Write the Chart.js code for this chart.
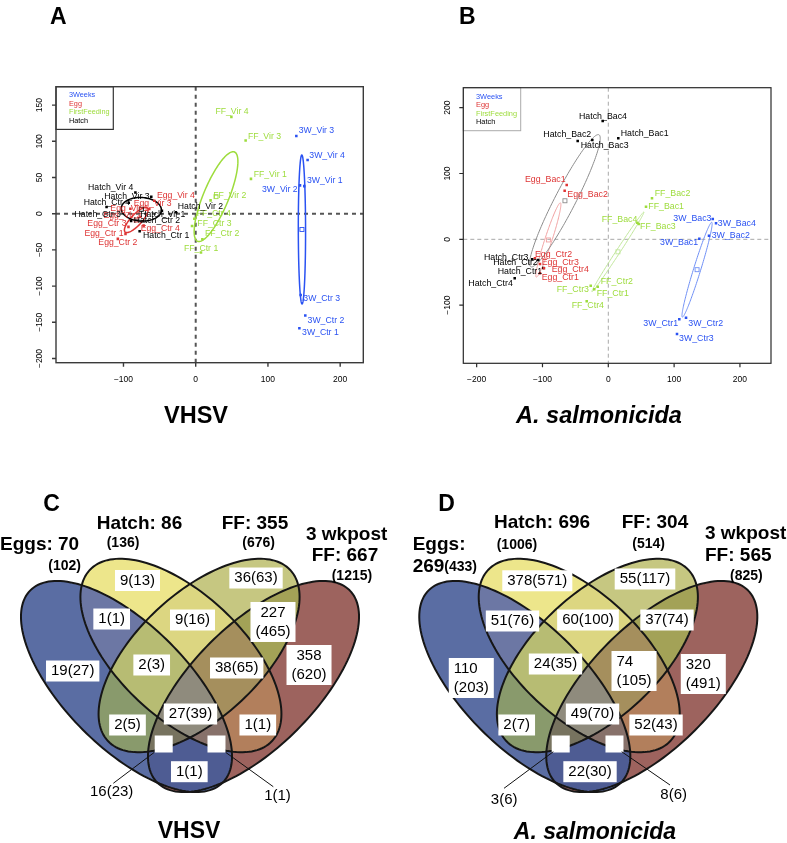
<!DOCTYPE html>
<html>
<head>
<meta charset="utf-8">
<title>PCA y Venn</title>
<script src="https://cdn.jsdelivr.net/npm/chart.js@4.4.1/dist/chart.umd.min.js"></script>
<style>
  html, body { margin: 0; padding: 0; background: #fff; }
  #lienzo { position: relative; width: 787px; height: 843px; overflow: hidden; }
  #lienzo canvas { position: absolute; left: 0; top: 0; }
</style>
</head>
<body>
<div id="lienzo">
  <canvas id="pcaA" width="787" height="843"></canvas>
  <canvas id="pcaB" width="787" height="843"></canvas>
  <canvas id="vennC" width="787" height="843"></canvas>
  <canvas id="vennD" width="787" height="843"></canvas>
</div>
<script>
const FONT = '"Liberation Sans", Arial, Helvetica, sans-serif';

// ---------- datos PCA ----------
const groupNames = ['3Weeks', 'Egg', 'FirstFeeding', 'Hatch'];

// A: VHSV
const vhsvNames3W = ['3W_Vir 3', '3W_Vir 4', '3W_Vir 1', '3W_Vir 2', '3W_Ctr 3', '3W_Ctr 2', '3W_Ctr 1'];
const vhsvX3W = [139.3, 154.9, 150.3, 144.4, 145.3, 151.7, 143.5];
const vhsvY3W = [107.3, 74.3, 38.1, 39.1, -112.2, -140.7, -158.2];
const vhsvNamesEgg = ['Egg_Vir 4', 'Egg_Vir 3', 'Egg_Vir 1', 'Egg_Vir 2', 'Egg_Ctr 3', 'Egg_Ctr 1', 'Egg_Ctr 2', 'Egg_Ctr 4'];
const vhsvXEgg = [-57.4, -64.2, -76.6, -90.4, -93.1, -97.2, -107.8, -72.1];
const vhsvYEgg = [17.9, 6.5, -4.1, 6.9, -18.2, -27.9, -34.8, -16.5];
const vhsvNamesFF = ['FF_Vir 4', 'FF_Vir 3', 'FF_Vir 1', 'FF_Vir 2', 'FF_Ctr 4', 'FF_Ctr 3', 'FF_Ctr 2', 'FF_Ctr 1'];
const vhsvXFF = [49.4, 69.1, 76.5, 20.6, -1.9, -5.1, 9.2, 7.3];
const vhsvYFF = [133.7, 101.1, 48.1, 18.4, -6.9, -16.9, -35.4, -53.7];
const vhsvNamesHatch = ['Hatch_Vir 4', 'Hatch_Vir 3', 'Hatch_Ctr 4', 'Hatch_Ctr 3', 'Hatch_Vir 2', 'Hatch_Vir 1', 'Hatch_Ctr 2', 'Hatch_Ctr 1'];
const vhsvXHatch = [-83.5, -61.5, -92.7, -123.4, -27.5, -46.8, -89.4, -77.6];
const vhsvYHatch = [29.4, 23.4, 15.1, 9.2, 1.9, 4.1, -10, -24.2];
const vhsvTicksX = [-100, 0, 100, 200];
const vhsvTicksY = [-200, -150, -100, -50, 0, 50, 100, 150];

// B: A. salmonicida
const salmNames3W = ['3W_Bac3', '3W_Bac4', '3W_Bac2', '3W_Bac1', '3W_Ctr1', '3W_Ctr2', '3W_Ctr3'];
const salmX3W = [158.7, 163.7, 153, 138.3, 107.9, 118.1, 104.4];
const salmY3W = [30.9, 24.3, 5.5, 0.9, -121.6, -119.1, -143.9];
const salmNamesEgg = ['Egg_Bac1', 'Egg_Bac2', 'Egg_Ctr2', 'Egg_Ctr3', 'Egg_Ctr4', 'Egg_Ctr1'];
const salmXEgg = [-63.2, -66.3, -111.4, -103.8, -97.7, -103.8];
const salmYEgg = [82.5, 73.9, -28.9, -37.5, -44.1, -51.7];
const salmNamesFF = ['FF_Bac2', 'FF_Bac1', 'FF_Bac4', 'FF_Bac3', 'FF_Ctr2', 'FF_Ctr1', 'FF_Ctr3', 'FF_Ctr4'];
const salmXFF = [66.4, 57.3, 44.1, 46.2, -16.1, -21.3, -26.7, -32.8];
const salmYFF = [62.3, 49.6, 25.2, 23.3, -72, -76, -70.5, -94.2];
const salmNamesHatch = ['Hatch_Bac4', 'Hatch_Bac1', 'Hatch_Bac2', 'Hatch_Bac3', 'Hatch_Ctr3', 'Hatch_Ctr2', 'Hatch_Ctr1', 'Hatch_Ctr4'];
const salmXHatch = [-8.5, 15.2, -46.5, -24.3, -115.5, -106.4, -98.8, -142.2];
const salmYHatch = [179.8, 153.5, 149.4, 150.9, -30.4, -31.5, -43.6, -59.3];
const salmTicksX = [-200, -100, 0, 100, 200];
const salmTicksY = [-100, 0, 100, 200];

// ---------- datos Venn ----------
const vennRegions = ['A', 'B', 'C', 'D', 'AB', 'BC', 'CD', 'ABC', 'BCD', 'AC', 'ABCD', 'BD', 'ACD', 'ABD', 'AD'];
const vhsvUp = [19, 9, 36, 358, 1, 9, 227, 2, 38, 2, 27, 1, 16, 1, 1];
const vhsvAll = [27, 13, 63, 620, 1, 16, 465, 3, 65, 5, 39, 1, 23, 1, 1];
const salmUp = [110, 378, 55, 320, 51, 60, 37, 24, 74, 2, 49, 52, 3, 8, 22];
const salmAll = [203, 571, 117, 491, 76, 100, 74, 35, 105, 7, 70, 43, 6, 6, 30];
const vhsvSetUp = [70, 86, 355, 667];
const vhsvSetAll = [102, 136, 676, 1215];
const salmSetUp = [269, 696, 304, 565];
const salmSetAll = [433, 1006, 514, 825];

// ---------- estilo / posiciones ----------
// desplazamiento de cada etiqueta (px): borde izquierdo y centro vertical
const vhsvOff = [
  [[2.3, -5], [1.7, -4.7], [2.7, -5.3], [-38, 4], [2.7, 4], [2.3, 4.7], [2.7, 4.7]],
  [[2.7, -5], [-15.7, -5], [-30, -8.4], [-27, 7.3], [-41.1, -2.9], [-41.1, 0.1], [-19.5, 3.8], [-2.9, 2.7]],
  [[-16, -5], [2.3, -4.3], [2.7, -4], [2.7, -4.3], [2.3, -4.7], [5.3, -2.7], [2.7, -5.3], [-17, -4.3]],
  [[-47.3, -4.6], [-47, 0], [-45, 0], [-32, 7.3], [2, -5.6], [-21.7, 4.3], [2.6, 0], [3.4, 4.4]]
];
const salmOff = [
  [[-39.4, 0], [1.7, 0], [2.7, 0], [-39.3, 4], [-36, 4.7], [2.3, 5.6], [2, 4.3]],
  [[-41.7, -5.7], [2.6, 4.3], [0, -4], [1.7, -1.3], [7.7, 1.7], [1.7, 4]],
  [[2.7, -4.3], [2.3, 0], [-35.6, -2.7], [1.3, 2.7], [3, -5], [2.4, 4.7], [-34, 4.3], [-15, 4.7]],
  [[-23.7, -4.3], [2.4, -4.3], [-34.4, -6], [-11.6, 6], [-48.3, -1.3], [-45, 2.3], [-45.6, 4], [-46.4, 5]]
];

const pcaConf = {
  pcaA: {
    off: vhsvOff,
    colors: ['#2a52f2', '#de3535', '#9ddc3c', '#000000'],
    ellColors: ['#2a52f2', '#de3535', '#9ddc3c', '#000000'],
    ellWidth: 1.5,
    zero: { color: '#555555', width: 2, dash: [4, 4] },
    frame: { color: '#3a3a3a', width: 1.4 },
    ticksX: vhsvTicksX, ticksY: vhsvTicksY,
    labelSize: 8.7,
    legend: { w: 57.3, h: 42.7, y0: 8.3, step: 8.67, tx: 13, size: 7.3, border: '#333333', lw: 1.2 },
    letter: { text: 'A', x: 50, y: 18 },
    title: { text: 'VHSV', x: 196, y: 417, style: 'normal' }
  },
  pcaB: {
    off: salmOff,
    colors: ['#2a52f2', '#de3535', '#9ddc3c', '#000000'],
    ellColors: ['#6f8ff5', '#f0a0a0', '#c0e69a', '#8c8c8c'],
    ellWidth: 1,
    zero: { color: '#a8a8a8', width: 1, dash: [4, 3] },
    frame: { color: '#2a2a2a', width: 1.2 },
    ticksX: salmTicksX, ticksY: salmTicksY,
    labelSize: 8.8,
    legend: { w: 57.4, h: 43, y0: 9, step: 8.43, tx: 12.7, size: 7.4, border: '#aaaaaa', lw: 1 },
    letter: { text: 'B', x: 459, y: 18 },
    title: { text: 'A. salmonicida', x: 599, y: 417, style: 'italic' }
  }
};

// elipses del diagrama de Venn, en unidades (0..1) del área del gráfico
const vennShape = [
  { cx: 0.3329, cy: 0.3513, a: 0.3579, b: 0.1618, ang: -45 },
  { cx: 0.4761, cy: 0.4329, a: 0.3289, b: 0.1632, ang: -43.2 },
  { cx: 0.5239, cy: 0.4329, a: 0.3289, b: 0.1632, ang: 43.2 },
  { cx: 0.6671, cy: 0.3513, a: 0.3579, b: 0.1618, ang: 45 }
];
const vennColors = {
  A: '#5a6da3', B: '#ede68b', C: '#c6c781', D: '#9d635e',
  AB: '#6c77a4', BC: '#dcd681', CD: '#a3a257', AC: '#899a6c', BD: '#b27f5c', AD: '#4e5c93',
  ABC: '#b7bc73', BCD: '#a58f5d', ACD: '#77735f', ABD: '#87716a', ABCD: '#8f8b7d'
};

const vennConf = {
  vennC: {
    up: vhsvUp, all: vhsvAll,
    pos: [[0.1913, 0.3921], [0.3618, 0.6303], [0.6737, 0.6368], [0.8132, 0.4079], [0.2939, 0.5289],
          [0.5066, 0.5263], [0.7184, 0.5211], [0.3992, 0.4079], [0.6229, 0.4], [0.3355, 0.25],
          [0.5013, 0.2789], [0.6784, 0.25], [0.4308, 0.2], [0.5697, 0.2], [0.4982, 0.1271]],
    twoLine: ['CD', 'D'], leftAlign: false,
    outside: {
      ACD: { from: [0.406, 0.178], to: [0.2982, 0.0966], at: [0.2939, 0.0729] },
      ABD: { from: [0.5939, 0.178], to: [0.7192, 0.0876], at: [0.7303, 0.0632] }
    },
    texts: [
      { t: 'C', x: 43.3, y: 505, s: 23 },
      { t: `Hatch: ${vhsvSetUp[1]}`, x: 96.7, y: 523.3, s: 19 },
      { t: `(${vhsvSetAll[1]})`, x: 106.7, y: 543.3, s: 14 },
      { t: `FF: ${vhsvSetUp[2]}`, x: 221.7, y: 523.3, s: 19 },
      { t: `(${vhsvSetAll[2]})`, x: 242.3, y: 543.3, s: 14 },
      { t: `Eggs: ${vhsvSetUp[0]}`, x: 0, y: 545, s: 19 },
      { t: `(${vhsvSetAll[0]})`, x: 48.3, y: 566, s: 14 },
      { t: '3 wkpost', x: 306, y: 534.3, s: 19 },
      { t: `FF: ${vhsvSetUp[3]}`, x: 311.7, y: 556, s: 19 },
      { t: `(${vhsvSetAll[3]})`, x: 331.7, y: 576, s: 14 },
      { t: 'VHSV', x: 189, y: 832, s: 23, center: true }
    ]
  },
  vennD: {
    up: salmUp, all: salmAll,
    pos: [[0.1921, 0.3737], [0.3658, 0.6295], [0.6492, 0.6342], [0.8026, 0.3842], [0.3005, 0.5237],
          [0.4992, 0.5263], [0.7071, 0.5263], [0.4137, 0.4105], [0.6203, 0.3921], [0.3116, 0.25],
          [0.5111, 0.2789], [0.6782, 0.25], [0.4274, 0.2], [0.5689, 0.2], [0.5045, 0.1271]],
    twoLine: ['A', 'D', 'BCD'], leftAlign: true,
    outside: {
      ACD: { from: [0.4079, 0.1797], to: [0.2782, 0.0834], at: [0.2787, 0.0526] },
      ABD: { from: [0.5879, 0.1797], to: [0.715, 0.0921], at: [0.7247, 0.0658] }
    },
    texts: [
      { t: 'D', x: 438.3, y: 505, s: 23 },
      { t: `Hatch: ${salmSetUp[1]}`, x: 494, y: 522.7, s: 19 },
      { t: `(${salmSetAll[1]})`, x: 496.7, y: 545, s: 14 },
      { t: `FF: ${salmSetUp[2]}`, x: 621.7, y: 522.7, s: 19 },
      { t: `(${salmSetAll[2]})`, x: 632.3, y: 544, s: 14 },
      { t: 'Eggs:', x: 412.7, y: 544.3, s: 19 },
      { t: `${salmSetUp[0]}`, x: 412.7, y: 566.7, s: 19 },
      { t: `(${salmSetAll[0]})`, x: 444.3, y: 566.7, s: 14 },
      { t: '3 wkpost', x: 705, y: 533.3, s: 19 },
      { t: `FF: ${salmSetUp[3]}`, x: 705, y: 556, s: 19 },
      { t: `(${salmSetAll[3]})`, x: 730, y: 575.7, s: 14 },
      { t: 'A. salmonicida', x: 595, y: 833, s: 23, center: true, italic: true }
    ]
  }
};

// ---------- utilidades ----------
const font = (size, weight = 'normal', style = 'normal') => `${style} ${weight} ${size}px ${FONT}`;
const minus = (v) => (v < 0 ? '\u2212' + Math.abs(v) : String(v));

// elipse de clase (centro y covarianza del grupo)
function groupEllipse(xs, ys) {
  const n = xs.length;
  const mx = xs.reduce((s, v) => s + v, 0) / n;
  const my = ys.reduce((s, v) => s + v, 0) / n;
  let sxx = 0, syy = 0, sxy = 0;
  xs.forEach((v, i) => {
    sxx += (v - mx) ** 2; syy += (ys[i] - my) ** 2; sxy += (v - mx) * (ys[i] - my);
  });
  sxx /= n; syy /= n; sxy /= n;
  const tr = sxx + syy, det = sxx * syy - sxy * sxy;
  const d = Math.sqrt(Math.max(tr * tr / 4 - det, 0));
  const l1 = tr / 2 + d, l2 = tr / 2 - d;
  const ang = Math.atan2(l1 - sxx, sxy || 1e-9);
  return { cx: mx, cy: my, a: Math.sqrt(l1), b: Math.sqrt(Math.max(l2, 0)), rad: ang };
}

function traceEllipse(ctx, xs, ys, e) {
  const c = Math.cos(e.rad), s = Math.sin(e.rad);
  for (let i = 0; i <= 160; i++) {
    const t = i / 160 * Math.PI * 2;
    const u = e.a * Math.cos(t), v = e.b * Math.sin(t);
    const px = xs.getPixelForValue(e.cx + u * c - v * s);
    const py = ys.getPixelForValue(e.cy + u * s + v * c);
    i ? ctx.lineTo(px, py) : ctx.moveTo(px, py);
  }
  ctx.closePath();
}

// ---------- plugin PCA ----------
const pcaPlugin = {
  id: 'pca',
  beforeDatasetsDraw(chart) {
    const p = pcaConf[chart.canvas.id];
    const { ctx, chartArea: ca, scales: { x, y } } = chart;
    ctx.save();
    ctx.strokeStyle = p.zero.color; ctx.lineWidth = p.zero.width; ctx.setLineDash(p.zero.dash);
    ctx.beginPath();
    ctx.moveTo(x.getPixelForValue(0), ca.top); ctx.lineTo(x.getPixelForValue(0), ca.bottom);
    ctx.moveTo(ca.left, y.getPixelForValue(0)); ctx.lineTo(ca.right, y.getPixelForValue(0));
    ctx.stroke();
    ctx.setLineDash([]);
    chart.data.datasets.forEach((ds, i) => {
      const e = groupEllipse(ds.data.map(d => d.x), ds.data.map(d => d.y));
      ctx.strokeStyle = p.ellColors[i]; ctx.lineWidth = p.ellWidth;
      ctx.beginPath(); traceEllipse(ctx, x, y, e); ctx.stroke();
      const cx = x.getPixelForValue(e.cx), cy = y.getPixelForValue(e.cy);
      ctx.lineWidth = 0.9;
      ctx.strokeRect(cx - 2, cy - 2, 4, 4);
    });
    ctx.restore();
  },
  afterDatasetsDraw(chart) {
    const p = pcaConf[chart.canvas.id];
    const { ctx, chartArea: ca, scales: { x, y } } = chart;
    ctx.save();
    // etiquetas de puntos
    ctx.font = font(p.labelSize); ctx.textAlign = 'left'; ctx.textBaseline = 'middle';
    chart.data.datasets.forEach((ds, i) => {
      ctx.fillStyle = p.colors[i];
      ds.data.forEach((d, j) => {
        const o = p.off[i][j];
        ctx.fillText(d.name, x.getPixelForValue(d.x) + o[0], y.getPixelForValue(d.y) + o[1]);
      });
    });
    // leyenda
    const lg = p.legend;
    ctx.fillStyle = '#fff'; ctx.fillRect(ca.left, ca.top, lg.w, lg.h);
    ctx.strokeStyle = lg.border; ctx.lineWidth = lg.lw; ctx.strokeRect(ca.left, ca.top, lg.w, lg.h);
    ctx.font = font(lg.size);
    groupNames.forEach((g, i) => {
      ctx.fillStyle = p.colors[i];
      ctx.fillText(g, ca.left + lg.tx, ca.top + lg.y0 + i * lg.step);
    });
    // marco y ejes
    ctx.strokeStyle = p.frame.color; ctx.lineWidth = p.frame.width;
    ctx.strokeRect(ca.left, ca.top, ca.right - ca.left, ca.bottom - ca.top);
    ctx.fillStyle = '#000'; ctx.font = font(8.5); ctx.textAlign = 'center';
    ctx.beginPath();
    p.ticksX.forEach(v => {
      const px = x.getPixelForValue(v);
      ctx.moveTo(px, ca.bottom); ctx.lineTo(px, ca.bottom + 4);
      ctx.fillText(minus(v), px, ca.bottom + 16.5);
    });
    p.ticksY.forEach(v => {
      const py = y.getPixelForValue(v);
      ctx.moveTo(ca.left, py); ctx.lineTo(ca.left - 4, py);
      ctx.save(); ctx.translate(ca.left - 16, py); ctx.rotate(-Math.PI / 2);
      ctx.fillText(minus(v), 0, 0); ctx.restore();
    });
    ctx.stroke();
    // letra y título
    ctx.textAlign = 'left'; ctx.font = font(23, 'bold');
    ctx.fillText(p.letter.text, p.letter.x, p.letter.y);
    ctx.textAlign = 'center'; ctx.font = font(23.5, 'bold', p.title.style);
    ctx.fillText(p.title.text, p.title.x, p.title.y);
    ctx.restore();
  }
};

// ---------- plugin Venn ----------
const vennPlugin = {
  id: 'venn',
  beforeDatasetsDraw(chart) {
    const { ctx, scales: { x, y } } = chart;
    const shapes = vennShape.map(e => ({ ...e, rad: e.ang * Math.PI / 180 }));
    ctx.save();
    vennRegions.forEach(r => {
      ctx.save();
      'ABCD'.split('').forEach((k, i) => {
        ctx.beginPath();
        if (r.includes(k)) {
          traceEllipse(ctx, x, y, shapes[i]); ctx.clip();
        } else {
          ctx.rect(0, 0, chart.width, chart.height); traceEllipse(ctx, x, y, shapes[i]); ctx.clip('evenodd');
        }
      });
      ctx.fillStyle = vennColors[r];
      ctx.fillRect(0, 0, chart.width, chart.height);
      ctx.restore();
    });
    ctx.strokeStyle = '#161616'; ctx.lineWidth = 2;
    shapes.forEach(e => { ctx.beginPath(); traceEllipse(ctx, x, y, e); ctx.stroke(); });
    ctx.restore();
  },
  afterDatasetsDraw(chart) {
    const v = vennConf[chart.canvas.id];
    const { ctx, scales: { x, y } } = chart;
    const X = (u) => x.getPixelForValue(u), Y = (u) => y.getPixelForValue(u);
    ctx.save();
    ctx.font = font(15); ctx.textBaseline = 'middle';
    vennRegions.forEach((r, i) => {
      const px = X(v.pos[i][0]), py = Y(v.pos[i][1]);
      const txt = `${v.up[i]}(${v.all[i]})`;
      if (v.outside[r]) {
        const o = v.outside[r];
        ctx.fillStyle = '#fff'; ctx.fillRect(px - 9, py - 8.5, 18, 17);
        ctx.strokeStyle = '#111'; ctx.lineWidth = 1;
        ctx.beginPath(); ctx.moveTo(X(o.from[0]), Y(o.from[1])); ctx.lineTo(X(o.to[0]), Y(o.to[1])); ctx.stroke();
        ctx.fillStyle = '#000'; ctx.textAlign = 'center';
        ctx.fillText(txt, X(o.at[0]), Y(o.at[1]));
        return;
      }
      const lines = v.twoLine.includes(r) ? [`${v.up[i]}`, `(${v.all[i]})`] : [txt];
      const w = Math.max(...lines.map(l => ctx.measureText(l).width)) + 10;
      const h = lines.length === 1 ? 21 : 40;
      ctx.fillStyle = '#fff'; ctx.fillRect(px - w / 2, py - h / 2, w, h);
      ctx.fillStyle = '#000';
      lines.forEach((l, j) => {
        const ly = py + (j - (lines.length - 1) / 2) * 19;
        if (lines.length > 1 && v.leftAlign) {
          ctx.textAlign = 'left'; ctx.fillText(l, px - w / 2 + 5, ly);
        } else {
          ctx.textAlign = 'center'; ctx.fillText(l, px, ly);
        }
      });
    });
    v.texts.forEach(t => {
      ctx.font = font(t.s, 'bold', t.italic ? 'italic' : 'normal');
      ctx.textAlign = t.center ? 'center' : 'left';
      ctx.fillText(t.t, t.x, t.y);
    });
    ctx.restore();
  }
};

// ---------- gráficos ----------
const pcaDatasets = (groups, colors) => groups.map((g, i) => ({
  label: groupNames[i],
  data: g.x.map((v, j) => ({ x: v, y: g.y[j], name: g.names[j] })),
  pointStyle: 'rect', pointRadius: 1.8, pointBorderWidth: 0,
  backgroundColor: colors[i], borderColor: colors[i]
}));

const baseOptions = (pad, xr, yr) => ({
  responsive: false, animation: false, events: [],
  layout: { padding: pad },
  scales: {
    x: { type: 'linear', min: xr[0], max: xr[1], display: false },
    y: { type: 'linear', min: yr[0], max: yr[1], display: false }
  },
  plugins: { legend: { display: false }, tooltip: { enabled: false } }
});

new Chart(document.getElementById('pcaA'), {
  type: 'scatter',
  data: {
    datasets: pcaDatasets([
      { names: vhsvNames3W, x: vhsvX3W, y: vhsvY3W },
      { names: vhsvNamesEgg, x: vhsvXEgg, y: vhsvYEgg },
      { names: vhsvNamesFF, x: vhsvXFF, y: vhsvYFF },
      { names: vhsvNamesHatch, x: vhsvXHatch, y: vhsvYHatch }
    ], pcaConf.pcaA.colors)
  },
  options: baseOptions({ left: 56, top: 86.7, right: 423.7, bottom: 480.3 }, [-193.4, 232], [-205.8, 175.4]),
  plugins: [pcaPlugin]
});

new Chart(document.getElementById('pcaB'), {
  type: 'scatter',
  data: {
    datasets: pcaDatasets([
      { names: salmNames3W, x: salmX3W, y: salmY3W },
      { names: salmNamesEgg, x: salmXEgg, y: salmYEgg },
      { names: salmNamesFF, x: salmXFF, y: salmYFF },
      { names: salmNamesHatch, x: salmXHatch, y: salmYHatch }
    ], pcaConf.pcaB.colors)
  },
  options: baseOptions({ left: 463.3, top: 87.7, right: 16, bottom: 479.7 }, [-220.3, 247.2], [-188.4, 230.4]),
  plugins: [pcaPlugin]
});

new Chart(document.getElementById('vennC'), {
  type: 'scatter',
  data: { datasets: [] },
  options: baseOptions({ left: 0, top: 440, right: 407, bottom: 23 }, [0, 1], [0, 1]),
  plugins: [vennPlugin]
});

new Chart(document.getElementById('vennD'), {
  type: 'scatter',
  data: { datasets: [] },
  options: baseOptions({ left: 398.3, top: 440, right: 8.7, bottom: 23 }, [0, 1], [0, 1]),
  plugins: [vennPlugin]
});
</script>
</body>
</html>
